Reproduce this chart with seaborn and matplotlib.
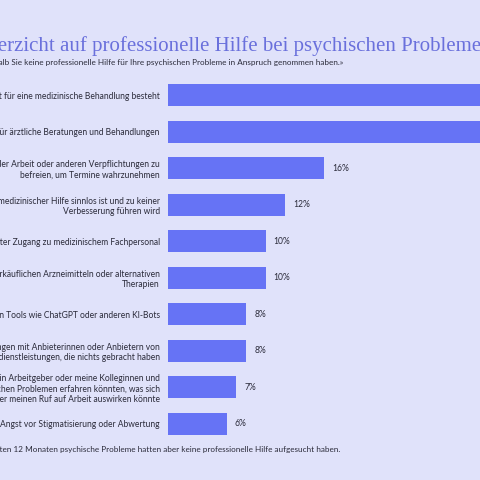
import matplotlib
matplotlib.use("Agg")
import matplotlib.pyplot as plt
from matplotlib import font_manager
import seaborn as sns
import pandas as pd

# Data (first two bars run past the visible area, values estimated)
reasons = [
    "Das Gefühl, dass keine Notwendigkeit für eine medizinische Behandlung besteht",
    "Fehlende Zeit für ärztliche Beratungen und Behandlungen",
    "Schwierigkeiten, mich von der Arbeit oder anderen Verpflichtungen zu\nbefreien, um Termine wahrzunehmen",
    "Der Glaube, dass die Inanspruchnahme medizinischer Hilfe sinnlos ist und zu keiner\nVerbesserung führen wird",
    "Begrenzter Zugang zu medizinischem Fachpersonal",
    "Selbstbehandlung mit frei verkäuflichen Arzneimitteln oder alternativen\nTherapien",
    "Nutzung von KI-basierten Tools wie ChatGPT oder anderen KI-Bots",
    "Negative Erfahrungen mit Anbieterinnen oder Anbietern von\nGesundheitsdienstleistungen, die nichts gebracht haben",
    "Die Sorge, dass mein Arbeitgeber oder meine Kolleginnen und\nKollegen von meinen psychischen Problemen erfahren könnten, was sich\nnegativ auf meine Karriere oder meinen Ruf auf Arbeit auswirken könnte",
    "Angst vor Stigmatisierung oder Abwertung",
]
shares = [41, 36, 16, 12, 10, 10, 8, 8, 7, 6]

title = "Verzicht auf professionelle Hilfe bei psychischen Problemen"
subtitle = "«Bitte geben Sie die Gründe an, weshalb Sie keine professionelle Hilfe für Ihre psychischen Probleme in Anspruch genommen haben.»"
footer = "Basis: Befragte, die in den letzten 12 Monaten psychische Probleme hatten aber keine professionelle Hilfe aufgesucht haben."

bg = "#e0e2fa"
bar_col = "#6673f5"
text_col = "#2b2b3a"
title_col = "#6a70dc"

sns.set_theme(style="white")
installed = {f.name for f in font_manager.fontManager.ttflist}
sans = "Liberation Sans Narrow" if "Liberation Sans Narrow" in installed else "Lato"
plt.rcParams["font.family"] = [sans, "DejaVu Sans"]
serif = ["Liberation Serif", "DejaVu Serif"]

fig = plt.figure(figsize=(4.8, 4.8), dpi=100, facecolor=bg)
renderer = fig.canvas.get_renderer()


def text_width(s, size, family):
    t = fig.text(0, 0, s, fontsize=size, family=family)
    w = t.get_window_extent(renderer).width
    t.remove()
    return w


def fit_size(s, target_px, family):
    # font size so that string s is target_px wide
    return 10 * target_px / text_width(s, 10, family)


# sizes chosen so the visible pieces line up with the reference crop
label_size = fit_size("Angst vor Stigmatisierung oder Abwertung", 160, [sans])
title_size = fit_size("erzicht auf professionelle Hilfe bei psychischen Probleme", 482, serif)
sub_size = fit_size("alb Sie keine professionelle Hilfe für Ihre psychischen Probleme in Anspruch genommen haben.»", 345, [sans])
foot_size = fit_size("zten 12 Monaten psychische Probleme hatten aber keine professionelle Hilfe aufgesucht haben.", 341, [sans])

df = pd.DataFrame({"reason": reasons, "share": shares})

ax = fig.add_axes([168 / 480, 0.0786, 1 - 168 / 480, 0.7615])
ax.set_facecolor(bg)

sns.barplot(data=df, x="share", y="reason", color=bar_col, saturation=1,
            width=0.6, linewidth=0, ax=ax)
ax.set_xlim(0, 32)
ax.set_xlabel("")
ax.set_ylabel("")
ax.set_xticks([])
ax.tick_params(axis="y", length=0, pad=6, labelsize=label_size, labelcolor=text_col)
for s in ax.spines.values():
    s.set_visible(False)

for i, v in enumerate(shares):
    ax.text(v + 0.85, i, f"{v}%", va="center", ha="left", fontsize=label_size,
            color=text_col)

x_title = -text_width("V", title_size, serif)
fig.text(x_title / 480, 1 - 51 / 480, title, ha="left", va="baseline",
         family=serif, fontsize=title_size, color=title_col)
fig.text(343 / 480, 1 - 62 / 480, subtitle, ha="right", va="center",
         fontsize=sub_size, color=text_col)
fig.text(340 / 480, 1 - 449 / 480, footer, ha="right", va="center",
         fontsize=foot_size, color=text_col)

fig.savefig("out.png", dpi=100, facecolor=bg)
